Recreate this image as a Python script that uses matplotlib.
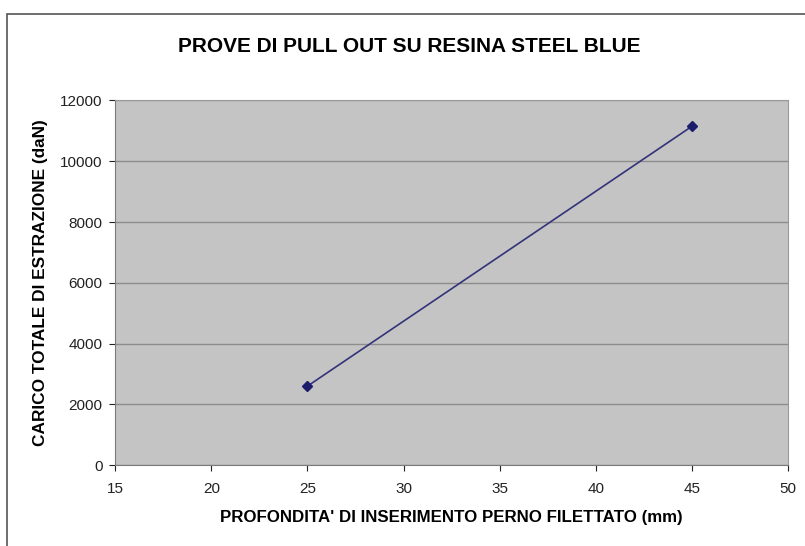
import matplotlib
matplotlib.use('Agg')
import matplotlib.pyplot as plt
from matplotlib.patches import Rectangle

plt.rcParams['font.family'] = ['Liberation Sans', 'DejaVu Sans']

# dati
profondita = [25, 45]          # mm
carico = [2600, 11150]         # daN
x_ticks = [15, 20, 25, 30, 35, 40, 45, 50]
y_ticks = [0, 2000, 4000, 6000, 8000, 10000, 12000]

fig = plt.figure(figsize=(8.05, 5.46), dpi=100)
fig.patch.set_facecolor('white')

# cornice esterna
fig.patches.append(Rectangle((0.009, -0.01), 1.2, 0.985, transform=fig.transFigure,
                             fill=False, edgecolor='#555555', linewidth=1.2))

ax = fig.add_axes([0.143, 0.148, 0.836, 0.668])
ax.set_facecolor('#c4c4c4')

ax.plot(profondita, carico, color='#33337a', linewidth=1.2,
        marker='D', markersize=5, markerfacecolor='#1c1c6c', markeredgecolor='#1c1c6c')

ax.set_xlim(15, 50)
ax.set_ylim(0, 12000)
ax.set_xticks(x_ticks)
ax.set_yticks(y_ticks)
ax.yaxis.grid(True, color='#8c8c8c', linewidth=1.0)
ax.set_axisbelow(True)

for side in ['top', 'right']:
    ax.spines[side].set_color('#9a9a9a')
for side in ['left', 'bottom']:
    ax.spines[side].set_color('#7a7a7a')

ax.tick_params(axis='both', labelsize=11, colors='#222222', length=4, pad=5)
ax.tick_params(axis='x', pad=8)

ax.set_xlabel("PROFONDITA' DI INSERIMENTO PERNO FILETTATO (mm)",
              fontsize=12.2, fontweight='bold', labelpad=10)
ax.set_ylabel("CARICO TOTALE DI ESTRAZIONE (daN)",
              fontsize=12.4, fontweight='bold', labelpad=9)

fig.text(0.509, 0.915, "PROVE DI PULL OUT SU RESINA STEEL BLUE",
         ha='center', va='center', fontsize=15, fontweight='bold')

fig.savefig('out.png', dpi=100)
